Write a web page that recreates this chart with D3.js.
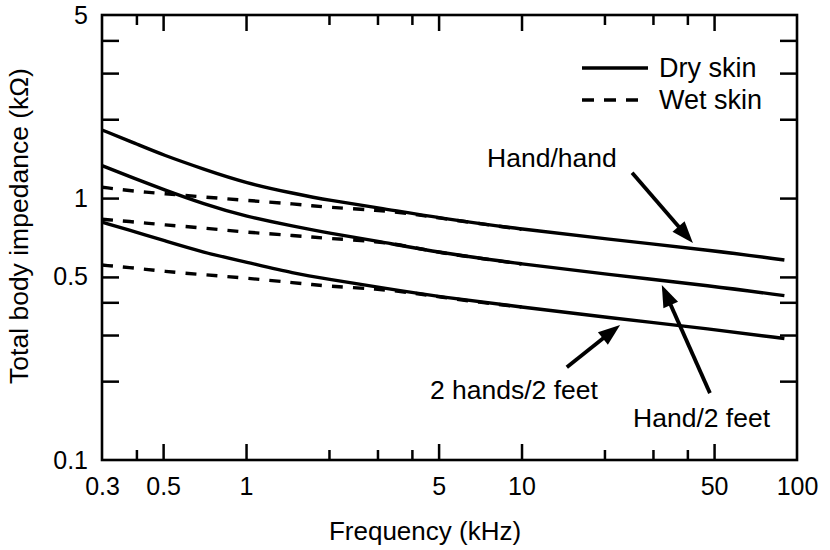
<!DOCTYPE html>
<html lang="en">
<head>
<meta charset="UTF-8">
<title>Total body impedance vs frequency</title>
<style>
    body {
        margin: 0;
        background: #fff;
    }
    svg {
        display: block;
        font-family: "Liberation Sans", Arial, sans-serif;
    }
    .curve {
        fill: none;
        stroke: #000;
        stroke-width: 3.4;
        stroke-linejoin: round;
    }
    .wet {
        stroke-dasharray: 11, 10;
    }
    .tick line {
        stroke: #000;
        stroke-width: 2.5;
    }
    .tick text {
        font-size: 25px;
        fill: #000;
    }
</style>
</head>
<body>
<svg id="chart" width="830" height="550"></svg>

<script src="https://d3js.org/d3.v7.min.js"></script>
<script>
    // frequencies (kHz) and impedances (kOhm)
    const freqDry = [0.3, 0.4, 0.5, 0.7, 1, 1.5, 2, 3, 5, 10, 20, 50, 90];
    const dryHandHand = [1.82, 1.61, 1.46, 1.29, 1.14, 1.04, 0.98, 0.92, 0.84, 0.76, 0.70, 0.63, 0.58];
    const dryHandFeet = [1.33, 1.18, 1.08, 0.95, 0.85, 0.78, 0.735, 0.685, 0.62, 0.56, 0.513, 0.461, 0.424];
    const dryHandsFeet = [0.81, 0.74, 0.69, 0.62, 0.57, 0.515, 0.49, 0.457, 0.42, 0.384, 0.351, 0.315, 0.291];

    const freqWet = [0.3, 0.4, 0.5, 0.7, 1, 1.5, 2, 3, 4, 5, 7, 10];
    const wetHandHand = [1.10, 1.06, 1.04, 1.01, 0.98, 0.95, 0.92, 0.90, 0.87, 0.84, 0.80, 0.76];
    const wetHandFeet = [0.83, 0.81, 0.79, 0.77, 0.74, 0.72, 0.70, 0.685, 0.65, 0.62, 0.59, 0.56];
    const wetHandsFeet = [0.555, 0.54, 0.525, 0.51, 0.495, 0.475, 0.46, 0.45, 0.435, 0.42, 0.40, 0.384];

    const xLabelTicks = [0.3, 0.5, 1, 5, 10, 50, 100];
    const xMajorTicks = [0.5, 1, 5, 10, 50];
    const xMinorTicks = [0.4, 2, 3, 4, 20, 30, 40];
    const yLabelTicks = [0.1, 0.5, 1, 5];
    const yTicks = [0.2, 0.3, 0.4, 0.5, 1, 2, 3, 4];

    // annotation labels and arrows, in data units (kHz, kOhm)
    const noteText = ["Hand/hand", "Hand/2 feet", "2 hands/2 feet"];
    const noteAt = [[7.5, 1.31], [25.4, 0.134], [4.65, 0.171]];
    const arrowFrom = [[25.2, 1.25], [48.3, 0.180], [14.6, 0.226]];
    const arrowTo = [[41.9, 0.673], [32.3, 0.466], [22.8, 0.328]];

    const legendText = ["Dry skin", "Wet skin"];

    const plotLeft = 102, plotRight = 797, plotTop = 15, plotBottom = 460;

    const x = d3.scaleLog().domain([0.3, 100]).range([plotLeft, plotRight]);
    const y = d3.scaleLog().domain([0.1, 5]).range([plotBottom, plotTop]);

    const svg = d3.select("#chart");

    // ticks
    svg.append("g")
        .attr("transform", "translate(0," + plotBottom + ")")
        .call(d3.axisBottom(x).tickValues(xLabelTicks).tickSize(0).tickPadding(17).tickFormat(d => d));
    svg.append("g")
        .attr("transform", "translate(0," + plotBottom + ")")
        .call(d3.axisBottom(x).tickValues(xMajorTicks).tickSize(-16).tickFormat(""));
    svg.append("g")
        .attr("transform", "translate(0," + plotBottom + ")")
        .call(d3.axisBottom(x).tickValues(xMinorTicks).tickSize(-10).tickFormat(""));
    svg.append("g")
        .attr("transform", "translate(0," + plotTop + ")")
        .call(d3.axisTop(x).tickValues(xMajorTicks).tickSize(-16).tickFormat(""));
    svg.append("g")
        .attr("transform", "translate(0," + plotTop + ")")
        .call(d3.axisTop(x).tickValues(xMinorTicks).tickSize(-10).tickFormat(""));

    svg.append("g")
        .attr("transform", "translate(" + plotLeft + ",0)")
        .call(d3.axisLeft(y).tickValues(yLabelTicks).tickSize(0).tickPadding(14).tickFormat(d => d));
    svg.append("g")
        .attr("transform", "translate(" + plotLeft + ",0)")
        .call(d3.axisLeft(y).tickValues(yTicks).tickSize(-17).tickFormat(""));
    svg.append("g")
        .attr("transform", "translate(" + plotRight + ",0)")
        .call(d3.axisRight(y).tickValues(yTicks).tickSize(-17).tickFormat(""));

    svg.selectAll(".domain").remove();

    // frame
    svg.append("rect")
        .attr("x", plotLeft)
        .attr("y", plotTop)
        .attr("width", plotRight - plotLeft)
        .attr("height", plotBottom - plotTop)
        .attr("fill", "none")
        .attr("stroke", "#000")
        .attr("stroke-width", 2.6);

    // curves
    const line = d3.line()
        .x(d => x(d[0]))
        .y(d => y(d[1]))
        .curve(d3.curveBasis);

    [wetHandHand, wetHandFeet, wetHandsFeet].forEach(vals => {
        svg.append("path")
            .attr("class", "curve wet")
            .attr("d", line(freqWet.map((f, i) => [f, vals[i]])));
    });
    [dryHandHand, dryHandFeet, dryHandsFeet].forEach(vals => {
        svg.append("path")
            .attr("class", "curve")
            .attr("d", line(freqDry.map((f, i) => [f, vals[i]])));
    });

    // annotations
    noteText.forEach((t, i) => {
        svg.append("text")
            .attr("x", x(noteAt[i][0]))
            .attr("y", y(noteAt[i][1]))
            .attr("font-size", 26.5)
            .text(t);

        const x1 = x(arrowFrom[i][0]), y1 = y(arrowFrom[i][1]);
        const x2 = x(arrowTo[i][0]), y2 = y(arrowTo[i][1]);
        const len = Math.hypot(x2 - x1, y2 - y1);
        const ux = (x2 - x1) / len, uy = (y2 - y1) / len;
        const headLen = 22, headW = 8;
        const bx = x2 - ux * headLen, by = y2 - uy * headLen;

        svg.append("line")
            .attr("x1", x1).attr("y1", y1)
            .attr("x2", bx + ux * 4).attr("y2", by + uy * 4)
            .attr("stroke", "#000")
            .attr("stroke-width", 3.8);
        svg.append("path")
            .attr("d", "M" + x2 + "," + y2 +
                "L" + (bx - uy * headW) + "," + (by + ux * headW) +
                "L" + (bx + uy * headW) + "," + (by - ux * headW) + "Z")
            .attr("fill", "#000");
    });

    // legend
    const legend = svg.append("g").attr("transform", "translate(582,68)");
    legendText.forEach((t, i) => {
        legend.append("line")
            .attr("class", i === 0 ? "curve" : "curve wet")
            .attr("x1", 0).attr("x2", 66)
            .attr("y1", i * 32).attr("y2", i * 32)
            .style("stroke-dasharray", i === 0 ? null : "12,10");
        legend.append("text")
            .attr("x", 77)
            .attr("y", i * 32 + 9)
            .attr("font-size", 27)
            .text(t);
    });

    // axis titles
    svg.append("text")
        .attr("x", 425)
        .attr("y", 540)
        .attr("text-anchor", "middle")
        .attr("font-size", 26)
        .text("Frequency (kHz)");

    svg.append("text")
        .attr("transform", "translate(28,226) rotate(-90)")
        .attr("text-anchor", "middle")
        .attr("font-size", 26.5)
        .text("Total body impedance (kΩ)");
</script>
</body>
</html>
